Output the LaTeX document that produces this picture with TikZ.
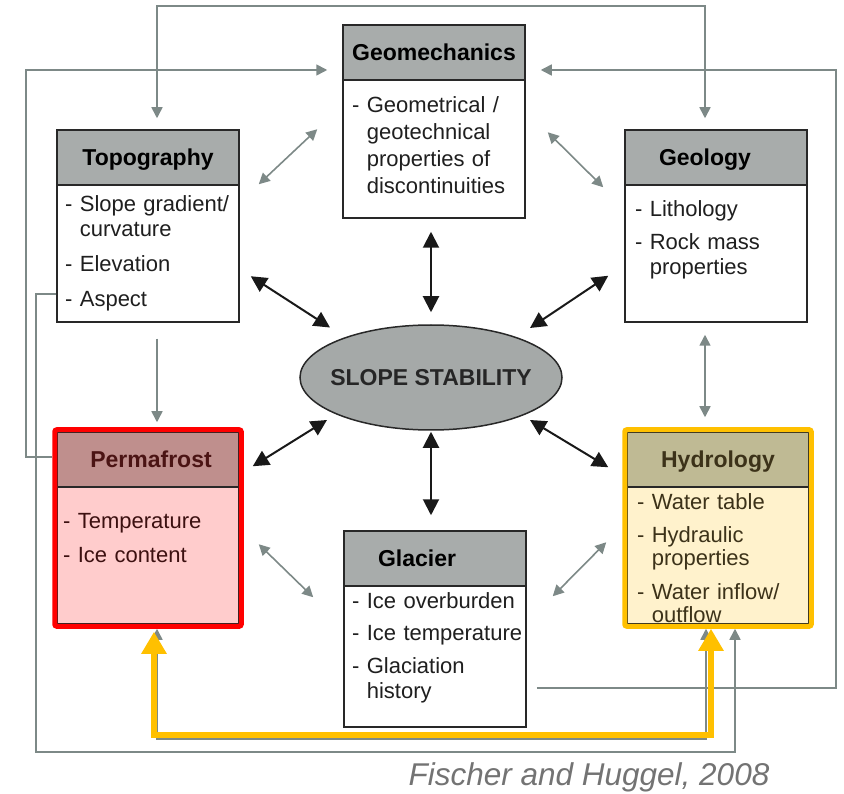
\documentclass[tikz,border=0pt]{standalone}
\usepackage{fontspec}
\setmainfont{Liberation Sans}
\usetikzlibrary{arrows.meta,shapes.geometric,fit}
\definecolor{boxln}{RGB}{40,40,40}
\definecolor{hdgray}{RGB}{168,172,171}
\definecolor{elgray}{RGB}{165,169,168}
\definecolor{lngray}{RGB}{125,137,135}
\definecolor{permhead}{RGB}{191,143,141}
\definecolor{permbody}{RGB}{255,204,204}
\definecolor{permtxt}{RGB}{75,20,20}
\definecolor{hydhead}{RGB}{191,186,148}
\definecolor{hydbody}{RGB}{255,242,204}
\definecolor{hydtxt}{RGB}{60,50,25}
\definecolor{hlyel}{RGB}{255,192,0}
\definecolor{citegray}{RGB}{115,115,115}
\begin{document}
\begin{tikzpicture}[x=1pt,y=-1pt,
  box/.style={draw=boxln,line width=1.5pt,fill=white,minimum width=182pt,inner sep=0pt},
  head/.style={draw=boxln,line width=1.5pt,fill=hdgray,minimum width=182pt,minimum height=55pt,inner sep=0pt,anchor=north,
    font=\fontsize{23}{26}\selectfont\bfseries,text height=16.5pt,text depth=0pt},
  items/.style={anchor=base west,inner sep=0pt,text width=172pt,align=left,text=black!88,font=\fontsize{22}{25}\selectfont},
  hilite/.style={line width=5pt,rounded corners=2pt,inner sep=1.5pt},
  gln/.style={lngray,line width=1.6pt,>={Triangle[length=11pt,width=11pt]}},
  bln/.style={black!90,line width=2pt,>={Triangle[length=16pt,width=16pt]}},
  yln/.style={hlyel,line width=6pt,>={Triangle[length=22pt,width=24pt]}}]
\useasboundingbox (0,0) rectangle (844,794);
% boxes
\node[box,minimum height=193pt] (geom) at (434,121.5) {};
\node[head] (geomH) at (geom.north) {Geomechanics};
\node[items,font=\fontsize{22}{27}\selectfont] (geomT) at (352,113) {- Geometrical /\\ \hphantom{- }geotechnical\\ \hphantom{- }properties of\\ \hphantom{- }discontinuities};
\node[box,minimum height=192pt] (topo) at (148,226) {};
\node[head] (topoH) at (topo.north) {Topography};
\node[items] (topoT) at (65,212) {- Slope gradient/\\ \hphantom{- }curvature\\[10pt]- Elevation\\[10pt]- Aspect};
\node[box,minimum height=192pt] (geol) at (716,226) {};
\node[head] (geolH) at (geol.north) {Geology\hspace*{22pt}};
\node[items] (geolT) at (635,217) {- Lithology\\[8pt]- Rock mass\\ \hphantom{- }properties};
\node[box,fill=permbody,minimum height=192pt] (perm) at (148,528) {};
\node[head,fill=permhead,text=permtxt] (permH) at (perm.north) {\hspace*{6pt}Permafrost};
\node[items,text=permtxt!80!black] (permT) at (63,528) {- Temperature\\[9pt]- Ice content};
\node[hilite,draw=red,fit=(perm)] (permF) {};
\node[box,minimum height=196pt] (glac) at (435,629) {};
\node[head] (glacH) at (glac.north) {Glacier\hspace*{36pt}};
\node[items] (glacT) at (352,608) {- Ice overburden\\[7pt]- Ice temperature\\[8pt]- Glaciation\\ \hphantom{- }history};
\node[box,fill=hydbody,minimum height=192pt] (hyd) at (718,528) {};
\node[head,fill=hydhead,text=hydtxt] (hydH) at (hyd.north) {Hydrology};
\node[items,text=hydtxt] (hydT) at (637,509) {- Water table\\[8pt]- Hydraulic\\[-2pt] \hphantom{- }properties\\[9pt]- Water inflow/\\[-2pt] \hphantom{- }outflow};
\node[hilite,draw=hlyel,fit=(hyd)] (hydF) {};
\node[ellipse,draw=boxln,line width=1.5pt,fill=elgray,minimum width=262pt,minimum height=105pt,inner sep=0pt,
  text=black!85,font=\fontsize{23}{26}\selectfont\bfseries] (stab) at (431,377.5) {\makebox[0pt]{SLOPE STABILITY}};
\node[font=\fontsize{31.5}{36}\selectfont\itshape,text=citegray] (cite) at (589,777) {Fischer and Huggel, 2008};
% outer feedback lines
\draw[gln,<->,shorten <=11pt,shorten >=11pt] ([xshift=9]topo.north) -- ++(0,-123) -| ([xshift=-11]geol.north);
\draw[gln,->,shorten >=15pt] ([yshift=71]permF.west) -- ++(-26,0) |- ([yshift=-17.5]geomH.west);
\draw[gln,->,shorten <=10pt,shorten >=15pt] ([yshift=-59]glac.east) -- ++(309,0) |- ([yshift=-17.5]geomH.east);
\draw[gln,->] ([yshift=-68]topo.west) -- ++(-20,0) -- ++(0,458) -| ([xshift=17]hydF.south);
\draw[gln,->,shorten <=16pt,shorten >=5pt] ([xshift=9]topo.south) -- ([xshift=9]topo.south |- permF.north);
\draw[gln,<->,shorten <=12pt,shorten >=10pt] ([xshift=-11]geol.south) -- ([xshift=-11]geol.south |- hydF.north);
% grey diagonals
\draw[gln,<->] ([shift={(19,55)}]topo.north east) -- ([shift={(-25,105)}]geom.north west);
\draw[gln,<->] ([shift={(22,108)}]geom.north east) -- ([shift={(-21,58)}]geol.north west);
\draw[gln,<->] ([shift={(19,113)}]perm.north east) -- ([shift={(-30,67)}]glac.north west);
\draw[gln,<->] ([shift={(26,66)}]glac.north east) -- ([shift={(-20,111)}]hyd.north west);
% black arrows round slope stability
\draw[bln,<->,shorten <=12pt,shorten >=13pt] (stab.north) -- (stab.north |- geom.south);
\draw[bln,<->,shorten <=1pt,shorten >=15pt] (stab.south) -- (stab.south |- glac.north);
\draw[bln,<->] ([shift={(-101,-50)}]stab.center) -- ([shift={(11,147)}]topo.north east);
\draw[bln,<->] ([shift={(99,-49.5)}]stab.center) -- ([shift={(-16,-47)}]geol.south west);
\draw[bln,<->] ([shift={(-104,42.5)}]stab.center) -- ([shift={(13,35)}]perm.north east);
\draw[bln,<->] ([shift={(99,42.5)}]stab.center) -- ([shift={(-18,36)}]hyd.north west);
% permafrost - hydrology link, highlighted
\draw[gln,<->] ([xshift=9]permF.south) -- ++(0,110) -| ([xshift=-12]hydF.south);
\draw[yln,<->,shorten <=3pt] ([xshift=6]permF.south) -- ++(0,106) -| ([xshift=-7]hydF.south);
\end{tikzpicture}
\end{document}
